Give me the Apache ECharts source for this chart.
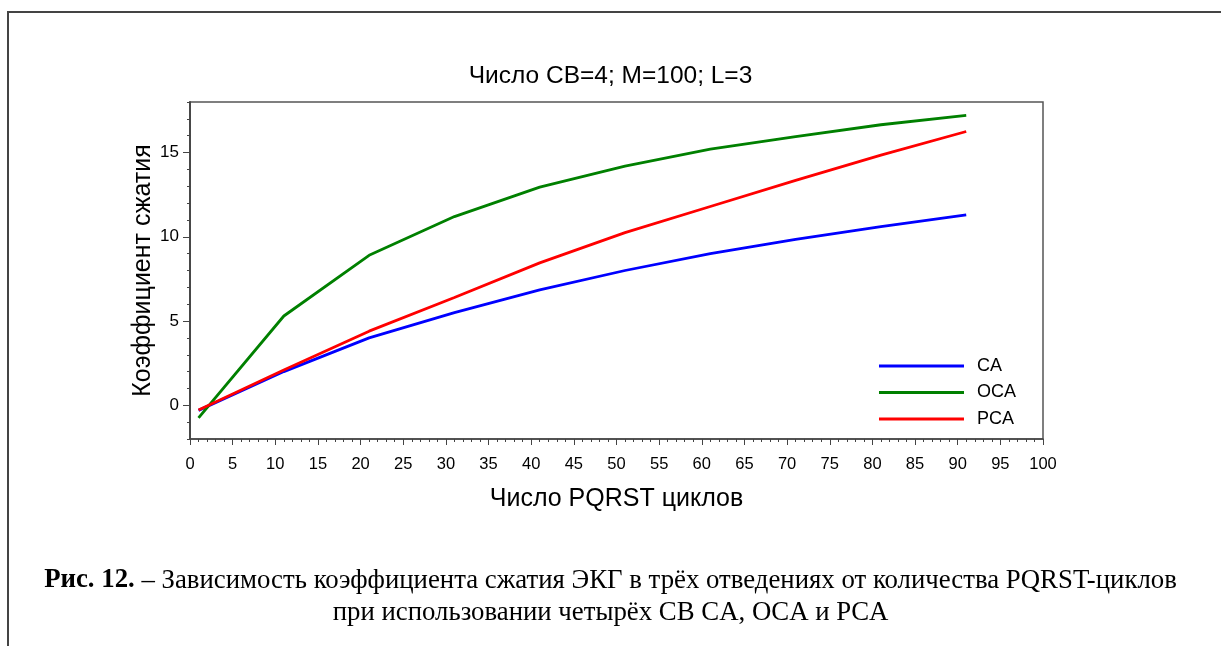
<!doctype html>
<html lang="ru">
<head>
    <meta charset="UTF-8">
    <title>Число СВ=4; M=100; L=3</title>
    <script src="https://cdn.jsdelivr.net/npm/echarts@6/dist/echarts.min.js"></script>
    <style>
        html, body { margin: 0; padding: 0; background: #fff; }
        #main { width: 1221px; height: 646px; }
    </style>
</head>
<body>
<div id="main"></div>
<script type="text/javascript">
    // число PQRST циклов
    var cycles = [1, 11, 21, 31, 41, 51, 61, 71, 81, 91];
    // коэффициент сжатия для каждого метода
    var caValues = [-0.3, 2.0, 4.0, 5.5, 6.85, 8.0, 9.0, 9.85, 10.6, 11.3];
    var ocaValues = [-0.75, 5.3, 8.9, 11.2, 12.95, 14.2, 15.2, 15.95, 16.65, 17.2];
    var pcaValues = [-0.28, 2.1, 4.4, 6.4, 8.45, 10.25, 11.8, 13.35, 14.85, 16.25];
    var yMajorTicks = [0, 5, 10, 15];

    function pairs(ys) {
        var out = [];
        for (var i = 0; i < cycles.length; i++) {
            out.push([cycles[i], ys[i]]);
        }
        return out;
    }

    var myChart = echarts.init(document.getElementById('main'));

    option = {
        backgroundColor: '#fff',
        animation: false,
        title: {
            text: 'Число СВ=4; M=100; L=3',
            left: 'center',
            top: 59,
            textStyle: {fontFamily: 'Liberation Sans', fontSize: 24.5, fontWeight: 'normal', color: '#000'}
        },
        grid: {
            left: 190, right: 178, top: 102, bottom: 207,
            show: true,
            borderColor: '#555',
            borderWidth: 1.5
        },
        legend: {
            orient: 'vertical',
            right: 200,
            top: 352,
            itemWidth: 85,
            itemHeight: 3,
            itemGap: 8.5,
            icon: 'rect',
            textStyle: {fontFamily: 'Liberation Sans', fontSize: 18, color: '#000', padding: [0, 0, 0, 8]},
            data: ['CA', 'OCA', 'PCA']
        },
        xAxis: {
            type: 'value',
            min: 0, max: 100, interval: 5,
            name: 'Число PQRST циклов',
            nameLocation: 'middle',
            nameGap: 48,
            nameTextStyle: {fontFamily: 'Liberation Sans', fontSize: 25, color: '#000'},
            axisLine: {onZero: false, lineStyle: {color: '#444', width: 1.5}},
            axisTick: {length: 6, lineStyle: {color: '#444'}},
            minorTick: {show: true, splitNumber: 5, length: 3, lineStyle: {color: '#444'}},
            axisLabel: {fontFamily: 'Liberation Sans', fontSize: 16.5, color: '#000', margin: 17},
            splitLine: {show: false}
        },
        yAxis: [{
            type: 'value',
            min: -2, max: 18, interval: 1,
            position: 'left',
            name: 'Коэффициент сжатия',
            nameLocation: 'middle',
            nameGap: 34,
            nameMoveOverlap: false,
            nameTextStyle: {fontFamily: 'Liberation Sans', fontSize: 25, color: '#000'},
            axisLine: {show: true, onZero: false, lineStyle: {color: '#444', width: 1.5}},
            axisTick: {length: 7, customValues: yMajorTicks, lineStyle: {color: '#444'}},
            axisLabel: {
                fontFamily: 'Liberation Sans', fontSize: 17, color: '#000', margin: 11,
                customValues: yMajorTicks,
                formatter: function (v) { return v % 5 === 0 ? v : ''; }
            },
            splitLine: {show: false}
        }, {
            type: 'value',
            min: -2, max: 18, interval: 1,
            position: 'left',
            axisLine: {show: true, onZero: false, lineStyle: {color: '#444', width: 1.5}},
            axisTick: {length: 3, lineStyle: {color: '#444'}},
            axisLabel: {show: false},
            splitLine: {show: false}
        }],
        graphic: [
            {type: 'line', shape: {x1: 7, y1: 12, x2: 1221, y2: 12}, style: {stroke: '#444', lineWidth: 2}},
            {type: 'line', shape: {x1: 8, y1: 11, x2: 8, y2: 646}, style: {stroke: '#444', lineWidth: 2}},
            {
                type: 'text', left: 'center', top: 567,
                style: {
                    text: '{b|Рис. 12.} – Зависимость коэффициента сжатия ЭКГ в трёх отведениях от количества PQRST-циклов',
                    font: '26.8px "Liberation Serif"',
                    fill: '#000',
                    rich: {b: {font: 'bold 26.8px "Liberation Serif"', fill: '#000'}}
                }
            },
            {
                type: 'text', left: 'center', top: 599,
                style: {
                    text: 'при использовании четырёх СВ CA, OCA и PCA',
                    font: '26.8px "Liberation Serif"',
                    fill: '#000'
                }
            }
        ],
        series: [
            {name: 'CA', type: 'line', data: pairs(caValues), showSymbol: false, lineStyle: {width: 2.8, color: '#0000ff'}, itemStyle: {color: '#0000ff'}},
            {name: 'OCA', type: 'line', data: pairs(ocaValues), showSymbol: false, lineStyle: {width: 2.8, color: '#008000'}, itemStyle: {color: '#008000'}},
            {name: 'PCA', type: 'line', data: pairs(pcaValues), showSymbol: false, lineStyle: {width: 2.8, color: '#ff0000'}, itemStyle: {color: '#ff0000'}}
        ]
    };

    myChart.setOption(option);
</script>
</body>
</html>
